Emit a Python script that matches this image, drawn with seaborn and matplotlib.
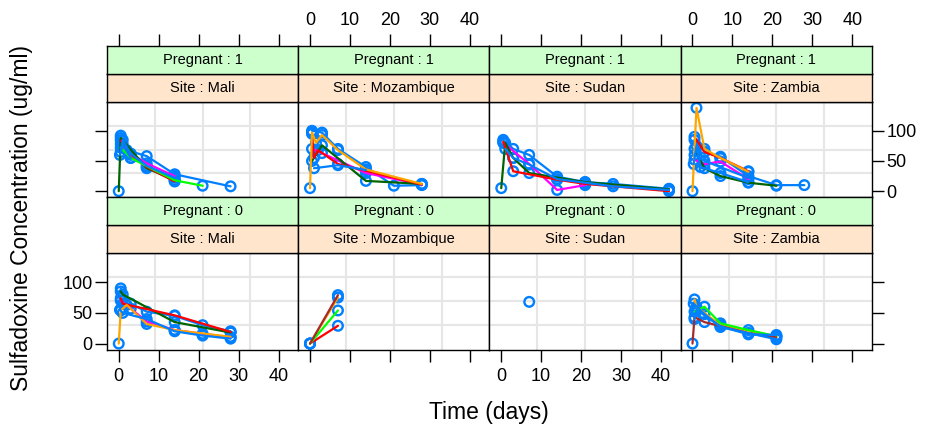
import matplotlib
matplotlib.use("Agg")
import matplotlib.pyplot as plt
import seaborn as sns
import pandas as pd

# ---------------- data ----------------
sites = ["Mali", "Mozambique", "Sudan", "Zambia"]
pregnant_rows = [1, 0]          # top row, bottom row
x_ticks = [0, 10, 20, 30, 40]
y_ticks = [0, 50, 100]
line_colors = ["#0080ff", "#ff00ff", "#006400", "#ff0000", "#ffa500", "#00ff00", "#a52a2a"]
point_color = "#0080ff"

# Pregnant = 1
mali_p1_ids = [0, 1, 2, 3, 5, 7, 14]
mali_p1_t = [[0.5, 2, 7, 14, 28], [0.5, 3, 7, 14], [0, 0.5, 7, 14], [0.5, 3, 7, 14],
             [0.5, 3, 14, 21], [0.3, 1, 3, 7, 14], [0.5, 1, 3]]
mali_p1_c = [[92, 68, 58, 28, 8], [78, 62, 46, 25], [0, 88, 38, 18], [84, 60, 40, 16],
             [72, 55, 18, 9], [60, 85, 62, 42, 22], [65, 78, 55]]

moz_p1_ids = [0, 1, 2, 3, 4, 7]
moz_p1_t = [[0.5, 3, 7, 14, 21, 28], [0.5, 3, 14, 28], [0.5, 3, 14, 28], [0.5, 1, 2, 7, 28],
            [0, 0.5, 1.5, 3, 7, 14, 28], [1, 7, 14]]
moz_p1_c = [[100, 97, 70, 40, 9, 10], [70, 63, 30, 11], [50, 76, 17, 12], [95, 55, 68, 45, 11],
            [5, 97, 80, 93, 68, 36, 12], [38, 43, 35]]

sudan_p1_ids = [0, 1, 2, 3, 7]
sudan_p1_t = [[0.5, 3, 7, 14, 21, 28, 42], [0.5, 7, 14, 21], [0, 1, 3, 7, 21, 42],
              [0.5, 3, 14, 21, 42], [1, 3, 7, 14, 28, 42]]
sudan_p1_c = [[85, 70, 60, 24, 15, 12, 4], [80, 45, 2, 10], [5, 80, 55, 30, 15, 3],
              [82, 33, 19, 12, 0], [70, 55, 44, 20, 8, 2]]

zambia_p1_ids = [0, 1, 2, 3, 4, 7, 14]
zambia_p1_t = [[0.5, 3, 7, 14, 21, 28], [0.5, 3, 7, 14], [0.5, 3, 7, 14, 21], [0.5, 3, 7, 14],
               [0, 1, 3, 7, 14], [0.3, 1, 2, 7, 14], [0.5, 3, 14]]
zambia_p1_c = [[85, 65, 57, 25, 10, 10], [52, 45, 49, 20], [70, 38, 25, 14, 9], [90, 65, 55, 33],
               [0, 138, 70, 55, 32], [45, 75, 40, 30, 15], [60, 50, 22]]

# Pregnant = 0
mali_p0_ids = [0, 1, 2, 3, 4, 7]
mali_p0_t = [[0.5, 3, 7, 14, 21, 28], [0.5, 3, 7, 14, 21, 28], [0.5, 1, 14, 28], [0.5, 1, 14, 28],
             [0, 0.5, 2, 7, 14, 28], [0.3, 1, 7, 14, 21, 28]]
mali_p0_c = [[90, 65, 52, 45, 30, 20], [70, 57, 36, 22, 16, 10], [85, 80, 35, 18], [74, 65, 46, 19],
             [0, 54, 63, 32, 22, 11], [55, 50, 40, 20, 13, 8]]

moz_p0_ids = [3, 4, 5, 6]
moz_p0_t = [[0, 7], [0, 7], [0, 7], [0, 7]]
moz_p0_c = [[0, 29], [0, 75], [0, 54], [0, 79]]

sudan_p0_ids = [7]
sudan_p0_t = [[7]]
sudan_p0_c = [[68]]

zambia_p0_ids = [4, 5, 6, 7, 14]
zambia_p0_t = [[0.5, 1, 7, 21], [0.5, 3, 7, 14, 21], [0, 0.5, 3, 14, 21], [0.3, 3, 7, 14, 21],
               [0.5, 1, 7, 14, 21]]
zambia_p0_c = [[72, 60, 30, 12], [52, 60, 33, 22, 12], [0, 43, 35, 17, 10], [65, 48, 27, 17, 7],
               [40, 55, 28, 15, 14]]

panel_data = {
    ("Mali", 1): (mali_p1_ids, mali_p1_t, mali_p1_c),
    ("Mozambique", 1): (moz_p1_ids, moz_p1_t, moz_p1_c),
    ("Sudan", 1): (sudan_p1_ids, sudan_p1_t, sudan_p1_c),
    ("Zambia", 1): (zambia_p1_ids, zambia_p1_t, zambia_p1_c),
    ("Mali", 0): (mali_p0_ids, mali_p0_t, mali_p0_c),
    ("Mozambique", 0): (moz_p0_ids, moz_p0_t, moz_p0_c),
    ("Sudan", 0): (sudan_p0_ids, sudan_p0_t, sudan_p0_c),
    ("Zambia", 0): (zambia_p0_ids, zambia_p0_t, zambia_p0_c),
}

rows = []
for (site, preg), (ids, ts, cs) in panel_data.items():
    for sid, tt, cc in zip(ids, ts, cs):
        for k, (t, c) in enumerate(zip(tt, cc)):
            rows.append(dict(Site=site, Pregnant=preg, sid=f"{site}{preg}_{sid}",
                             col=line_colors[sid % 7], order=k, time=t, conc=c))
df = pd.DataFrame(rows)

# ---------------- figure ----------------
sns.set_style("white")
plt.rcParams["font.family"] = ["Liberation Sans", "DejaVu Sans"]
plt.rcParams["text.color"] = "black"

W, H = 928, 434
fig = plt.figure(figsize=(W / 100, H / 100), dpi=100)


def ax_at(x0, y0, x1, y1):
    return fig.add_axes([x0 / W, 1 - y1 / H, (x1 - x0) / W, (y1 - y0) / H])


XLIM = (-2.94, 44.94)
YLIM = (-9.66, 147.66)
col_left = 107.0
col_w = 191.25
row_geom = [
    dict(green=(46, 74), peach=(74, 102), panel=(102, 197)),
    dict(green=(197, 225), peach=(225, 253), panel=(253, 349.5)),
]
TICK_FS = 13
STRIP_FS = 10.5
TL = 8.5

for r, preg in enumerate(pregnant_rows):
    g = row_geom[r]
    for c, site in enumerate(sites):
        L = col_left + c * col_w
        R = L + col_w
        ax = ax_at(L, g["panel"][0], R, g["panel"][1])
        ax.set_facecolor("white")
        for f in (0.25, 0.5, 0.75):
            ax.plot([f, f], [0, 1], transform=ax.transAxes, color="#e6e6e6", lw=1.5, zorder=0)
            ax.plot([0, 1], [f, f], transform=ax.transAxes, color="#e6e6e6", lw=1.5, zorder=0)

        d = df[(df.Site == site) & (df.Pregnant == preg)]
        sns.scatterplot(data=d, x="time", y="conc", ax=ax, marker="o", s=48,
                        facecolor="none", edgecolor=point_color, linewidth=1.7,
                        legend=False, zorder=2, clip_on=False)
        if d.sid.nunique() > 0:
            pal = dict(zip(d.sid, d.col))
            hue_order = list(dict.fromkeys(d.sid))
            sns.lineplot(data=d, x="time", y="conc", hue="sid", hue_order=hue_order,
                         palette=pal, estimator=None, sort=False,
                         ax=ax, legend=False, lw=1.6, zorder=3)
        ax.set_xlim(*XLIM)
        ax.set_ylim(*YLIM)
        ax.set_xlabel("")
        ax.set_ylabel("")
        for sp in ax.spines.values():
            sp.set_color("black")
            sp.set_linewidth(1.0)
            sp.set_visible(True)

        ax.tick_params(axis="both", direction="out", length=TL, width=1.0,
                       labelsize=TICK_FS, colors="black", pad=2)
        if c == 0:
            ax.set_yticks(y_ticks)
            ax.tick_params(axis="y", left=True, right=False, labelleft=(r == 1))
        elif c == 3:
            ax.set_yticks(y_ticks)
            ax.yaxis.tick_right()
            ax.tick_params(axis="y", left=False, right=True, labelright=(r == 0), labelleft=False)
        else:
            ax.set_yticks([])
        if r == 1:
            ax.set_xticks(x_ticks)
            ax.tick_params(axis="x", bottom=True, top=False, labelbottom=(c in (0, 2)), pad=5)
        else:
            ax.set_xticks([])

        for key, label, colr in (("peach", f"Site : {site}", "#ffe5cc"),
                                 ("green", f"Pregnant : {preg}", "#ccffcc")):
            sax = ax_at(L, g[key][0], R, g[key][1])
            sax.set_facecolor(colr)
            sax.set_xlim(*XLIM)
            sax.set_yticks([])
            for sp in sax.spines.values():
                sp.set_color("black")
                sp.set_linewidth(1.0)
                sp.set_visible(True)
            sax.text(0.5, 0.5, label, transform=sax.transAxes, ha="center", va="center",
                     fontsize=STRIP_FS, color="black")
            if r == 0 and key == "green":
                sax.set_xticks(x_ticks)
                sax.xaxis.tick_top()
                sax.tick_params(axis="x", direction="out", length=TL, width=1.0,
                                labelsize=TICK_FS, colors="black", top=True, bottom=False,
                                labeltop=(c in (1, 3)), labelbottom=False, pad=4)
            else:
                sax.set_xticks([])

fig.text(22 / W, 1 - 218 / H, "Sulfadoxine Concentration (ug/ml)", rotation=90,
         ha="center", va="center", fontsize=16.5, color="black")
fig.text(489 / W, 1 - 413 / H, "Time (days)", ha="center", va="center", fontsize=16.5,
         color="black")

fig.savefig("out.png", dpi=100)
